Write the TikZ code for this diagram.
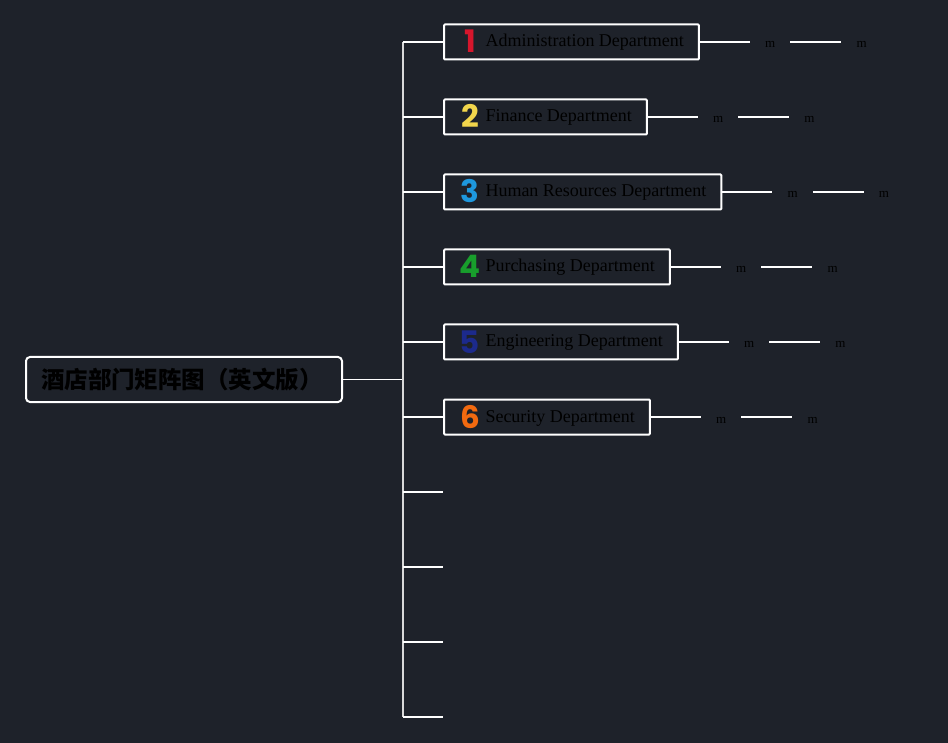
\documentclass[tikz,border=0pt]{standalone}
\usepackage{fontspec}
\setmainfont{Liberation Serif}
\newfontfamily\cjkfont{Noto Sans CJK SC}
\newfontfamily\numfont{Poppins}
\usetikzlibrary{positioning}
\definecolor{bgdark}{RGB}{30, 34, 42}
\definecolor{numred}{RGB}{214, 22, 44}
\definecolor{numyellow}{RGB}{242, 214, 76}
\definecolor{numblue}{RGB}{30, 152, 222}
\definecolor{numgreen}{RGB}{24, 158, 44}
\definecolor{numnavy}{RGB}{28, 42, 140}
\definecolor{numorange}{RGB}{242, 106, 16}
\newcommand{\deptlabel}[3]{\hspace*{3pt}\raisebox{-6pt}{\makebox[16pt]{\numfont\bfseries\fontsize{31}{31}\selectfont\color{#1}#2}}\hspace{7.5pt}#3}

\begin{document}
\begin{tikzpicture}[
  x=1pt, y=-1pt,
  root/.style={draw=white, line width=2pt, rounded corners=4pt, minimum height=45pt, text width=286pt, align=left, inner xsep=15pt, font=\cjkfont\bfseries\fontsize{23.5}{23.5}\selectfont},
  dept/.style={draw=white, line width=2pt, rounded corners=1pt, anchor=west, minimum height=35pt, inner xsep=15pt, inner ysep=0pt, text height=15pt, text depth=5pt, font=\fontsize{18}{18}\selectfont},
  leaf/.style={font=\fontsize{13}{13}\selectfont, text height=12pt, text depth=0pt, inner sep=0pt, minimum width=40pt},
  link/.style={draw=white, line width=1.5pt},
  trunk/.style={draw=white!70!gray, line width=1.5pt},
]
  \fill[bgdark] (0,0) rectangle (948,743);
  \useasboundingbox (0,0) rectangle (948,743);

  \node[root, anchor=west] (hotel) at (25,379.5) {酒店部门矩阵图（英文版）};

  \node[dept] (admin)    at (443,42)  {\deptlabel{numred}{1}{Administration Department}};
  \node[dept] (finance)  at (443,117) {\deptlabel{numyellow}{2}{Finance Department}};
  \node[dept] (hr)       at (443,192) {\deptlabel{numblue}{3}{Human Resources Department}};
  \node[dept] (purchase) at (443,267) {\deptlabel{numgreen}{4}{Purchasing Department}};
  \node[dept] (eng)      at (443,342) {\deptlabel{numnavy}{5}{Engineering Department}};
  \node[dept] (security) at (443,417) {\deptlabel{numorange}{6}{Security Department}};

  % empty slots
  \coordinate (slot7)  at (443,492);
  \coordinate (slot8)  at (443,567);
  \coordinate (slot9)  at (443,642);
  \coordinate (slot10) at (443,717);

  \coordinate (fork)   at (403,379.5);
  \coordinate (top)    at (403,42);
  \coordinate (bottom) at (403,717);

  \draw[link] (hotel.east) -- (fork);
  \draw[trunk] (top) -- (bottom);

  \draw[link] (top) -- (admin);
  \draw[link] (top |- finance) -- (finance);
  \draw[link] (top |- hr) -- (hr);
  \draw[link] (top |- purchase) -- (purchase);
  \draw[link] (top |- eng) -- (eng);
  \draw[link] (top |- security) -- (security);
  \draw[link] (top |- slot7) -- (slot7);
  \draw[link] (top |- slot8) -- (slot8);
  \draw[link] (top |- slot9) -- (slot9);
  \draw[link] (bottom) -- (slot10);

  % sub items
  \node[leaf, right=50pt of admin]      (admin-a)    {m};
  \node[leaf, right=51pt of admin-a]    (admin-b)    {m};
  \node[leaf, right=50pt of finance]    (finance-a)  {m};
  \node[leaf, right=51pt of finance-a]  (finance-b)  {m};
  \node[leaf, right=50pt of hr]         (hr-a)       {m};
  \node[leaf, right=51pt of hr-a]       (hr-b)       {m};
  \node[leaf, right=50pt of purchase]   (purchase-a) {m};
  \node[leaf, right=51pt of purchase-a] (purchase-b) {m};
  \node[leaf, right=50pt of eng]        (eng-a)      {m};
  \node[leaf, right=51pt of eng-a]      (eng-b)      {m};
  \node[leaf, right=50pt of security]   (security-a) {m};
  \node[leaf, right=51pt of security-a] (security-b) {m};

  \draw[link] (admin) -- (admin-a);
  \draw[link] (admin-a) -- (admin-b);
  \draw[link] (finance) -- (finance-a);
  \draw[link] (finance-a) -- (finance-b);
  \draw[link] (hr) -- (hr-a);
  \draw[link] (hr-a) -- (hr-b);
  \draw[link] (purchase) -- (purchase-a);
  \draw[link] (purchase-a) -- (purchase-b);
  \draw[link] (eng) -- (eng-a);
  \draw[link] (eng-a) -- (eng-b);
  \draw[link] (security) -- (security-a);
  \draw[link] (security-a) -- (security-b);
\end{tikzpicture}
\end{document}
